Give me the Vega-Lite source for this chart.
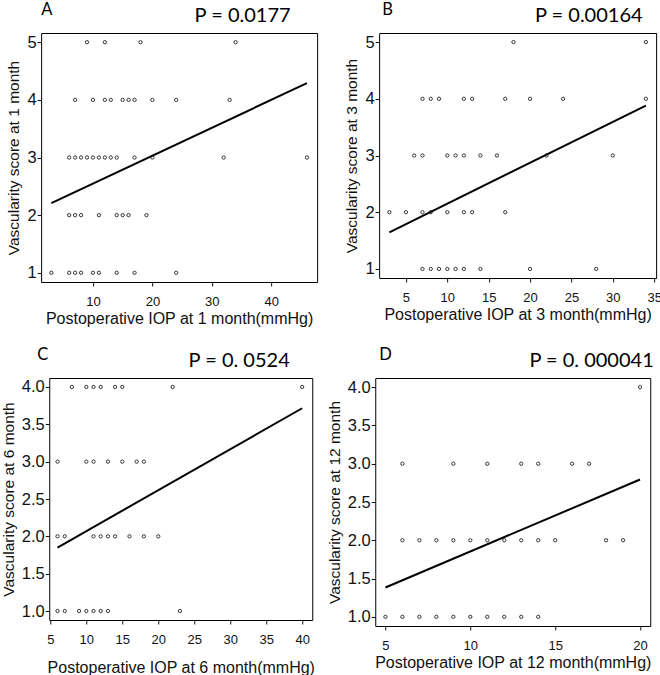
{
  "$schema": "https://vega.github.io/schema/vega-lite/v6.json",
  "background": "white",
  "padding": {"left": 0, "top": 1, "right": 0, "bottom": 0},
  "config": {
    "view": {"stroke": "black", "strokeWidth": 1},
    "axis": {"grid": false, "domain": false, "tickColor": "#111", "labelColor": "#111", "titleColor": "#111", "labelFont": "Liberation Sans", "titleFont": "Liberation Sans", "titleFontWeight": "normal"},
    "axisX": {"labelFontSize": 13, "titleFontSize": 16, "tickSize": 4, "labelPadding": 9, "titlePadding": 2},
    "axisY": {"labelFontSize": 16.5, "titleFontSize": 15.5, "tickSize": 4, "labelPadding": 1, "titlePadding": 5, "labelAngle": 0},
    "title": {"font": "Lato", "fontSize": 16.5, "fontWeight": "normal", "anchor": "start", "frame": "group", "color": "black", "offset": -13},
    "point": {"filled": false, "color": "#222", "size": 11, "strokeWidth": 0.9, "opacity": 1},
    "line": {"color": "black", "strokeWidth": 2}
  },
  "datasets": {
    "pts": [
      {"p": "A", "iop": 9, "score": 5}, {"p": "A", "iop": 12, "score": 5}, {"p": "A", "iop": 18, "score": 5}, {"p": "A", "iop": 34, "score": 5},
      {"p": "A", "iop": 7, "score": 4}, {"p": "A", "iop": 10, "score": 4}, {"p": "A", "iop": 12, "score": 4}, {"p": "A", "iop": 13, "score": 4}, {"p": "A", "iop": 15, "score": 4}, {"p": "A", "iop": 16, "score": 4}, {"p": "A", "iop": 17, "score": 4}, {"p": "A", "iop": 20, "score": 4}, {"p": "A", "iop": 24, "score": 4}, {"p": "A", "iop": 33, "score": 4},
      {"p": "A", "iop": 6, "score": 3}, {"p": "A", "iop": 7, "score": 3}, {"p": "A", "iop": 8, "score": 3}, {"p": "A", "iop": 9, "score": 3}, {"p": "A", "iop": 10, "score": 3}, {"p": "A", "iop": 11, "score": 3}, {"p": "A", "iop": 12, "score": 3}, {"p": "A", "iop": 13, "score": 3}, {"p": "A", "iop": 14, "score": 3}, {"p": "A", "iop": 17, "score": 3}, {"p": "A", "iop": 20, "score": 3}, {"p": "A", "iop": 32, "score": 3}, {"p": "A", "iop": 46, "score": 3},
      {"p": "A", "iop": 6, "score": 2}, {"p": "A", "iop": 7, "score": 2}, {"p": "A", "iop": 8, "score": 2}, {"p": "A", "iop": 11, "score": 2}, {"p": "A", "iop": 14, "score": 2}, {"p": "A", "iop": 15, "score": 2}, {"p": "A", "iop": 16, "score": 2}, {"p": "A", "iop": 19, "score": 2},
      {"p": "A", "iop": 3, "score": 1}, {"p": "A", "iop": 6, "score": 1}, {"p": "A", "iop": 7, "score": 1}, {"p": "A", "iop": 8, "score": 1}, {"p": "A", "iop": 10, "score": 1}, {"p": "A", "iop": 11, "score": 1}, {"p": "A", "iop": 14, "score": 1}, {"p": "A", "iop": 17, "score": 1}, {"p": "A", "iop": 24, "score": 1},
      {"p": "B", "iop": 18, "score": 5}, {"p": "B", "iop": 34, "score": 5},
      {"p": "B", "iop": 7, "score": 4}, {"p": "B", "iop": 8, "score": 4}, {"p": "B", "iop": 9, "score": 4}, {"p": "B", "iop": 12, "score": 4}, {"p": "B", "iop": 13, "score": 4}, {"p": "B", "iop": 17, "score": 4}, {"p": "B", "iop": 20, "score": 4}, {"p": "B", "iop": 24, "score": 4}, {"p": "B", "iop": 34, "score": 4},
      {"p": "B", "iop": 6, "score": 3}, {"p": "B", "iop": 7, "score": 3}, {"p": "B", "iop": 10, "score": 3}, {"p": "B", "iop": 11, "score": 3}, {"p": "B", "iop": 12, "score": 3}, {"p": "B", "iop": 14, "score": 3}, {"p": "B", "iop": 16, "score": 3}, {"p": "B", "iop": 22, "score": 3}, {"p": "B", "iop": 30, "score": 3},
      {"p": "B", "iop": 3, "score": 2}, {"p": "B", "iop": 5, "score": 2}, {"p": "B", "iop": 7, "score": 2}, {"p": "B", "iop": 8, "score": 2}, {"p": "B", "iop": 10, "score": 2}, {"p": "B", "iop": 12, "score": 2}, {"p": "B", "iop": 13, "score": 2}, {"p": "B", "iop": 17, "score": 2},
      {"p": "B", "iop": 7, "score": 1}, {"p": "B", "iop": 8, "score": 1}, {"p": "B", "iop": 9, "score": 1}, {"p": "B", "iop": 10, "score": 1}, {"p": "B", "iop": 11, "score": 1}, {"p": "B", "iop": 12, "score": 1}, {"p": "B", "iop": 14, "score": 1}, {"p": "B", "iop": 20, "score": 1}, {"p": "B", "iop": 28, "score": 1},
      {"p": "C", "iop": 8, "score": 4}, {"p": "C", "iop": 10, "score": 4}, {"p": "C", "iop": 11, "score": 4}, {"p": "C", "iop": 12, "score": 4}, {"p": "C", "iop": 14, "score": 4}, {"p": "C", "iop": 15, "score": 4}, {"p": "C", "iop": 22, "score": 4}, {"p": "C", "iop": 40, "score": 4},
      {"p": "C", "iop": 6, "score": 3}, {"p": "C", "iop": 10, "score": 3}, {"p": "C", "iop": 11, "score": 3}, {"p": "C", "iop": 13, "score": 3}, {"p": "C", "iop": 15, "score": 3}, {"p": "C", "iop": 17, "score": 3}, {"p": "C", "iop": 18, "score": 3},
      {"p": "C", "iop": 6, "score": 2}, {"p": "C", "iop": 7, "score": 2}, {"p": "C", "iop": 11, "score": 2}, {"p": "C", "iop": 12, "score": 2}, {"p": "C", "iop": 13, "score": 2}, {"p": "C", "iop": 14, "score": 2}, {"p": "C", "iop": 16, "score": 2}, {"p": "C", "iop": 18, "score": 2}, {"p": "C", "iop": 20, "score": 2},
      {"p": "C", "iop": 6, "score": 1}, {"p": "C", "iop": 7, "score": 1}, {"p": "C", "iop": 9, "score": 1}, {"p": "C", "iop": 10, "score": 1}, {"p": "C", "iop": 11, "score": 1}, {"p": "C", "iop": 12, "score": 1}, {"p": "C", "iop": 13, "score": 1}, {"p": "C", "iop": 23, "score": 1},
      {"p": "D", "iop": 20, "score": 4},
      {"p": "D", "iop": 6, "score": 3}, {"p": "D", "iop": 9, "score": 3}, {"p": "D", "iop": 11, "score": 3}, {"p": "D", "iop": 13, "score": 3}, {"p": "D", "iop": 14, "score": 3}, {"p": "D", "iop": 16, "score": 3}, {"p": "D", "iop": 17, "score": 3},
      {"p": "D", "iop": 6, "score": 2}, {"p": "D", "iop": 7, "score": 2}, {"p": "D", "iop": 8, "score": 2}, {"p": "D", "iop": 9, "score": 2}, {"p": "D", "iop": 10, "score": 2}, {"p": "D", "iop": 11, "score": 2}, {"p": "D", "iop": 12, "score": 2}, {"p": "D", "iop": 13, "score": 2}, {"p": "D", "iop": 14, "score": 2}, {"p": "D", "iop": 15, "score": 2}, {"p": "D", "iop": 18, "score": 2}, {"p": "D", "iop": 19, "score": 2},
      {"p": "D", "iop": 5, "score": 1}, {"p": "D", "iop": 6, "score": 1}, {"p": "D", "iop": 7, "score": 1}, {"p": "D", "iop": 8, "score": 1}, {"p": "D", "iop": 9, "score": 1}, {"p": "D", "iop": 10, "score": 1}, {"p": "D", "iop": 11, "score": 1}, {"p": "D", "iop": 12, "score": 1}, {"p": "D", "iop": 13, "score": 1}, {"p": "D", "iop": 14, "score": 1}
    ],
    "fit": [
      {"p": "A", "iop": 3, "score": 2.21}, {"p": "A", "iop": 46, "score": 4.29},
      {"p": "B", "iop": 3, "score": 1.645}, {"p": "B", "iop": 34, "score": 3.88},
      {"p": "C", "iop": 6, "score": 1.85}, {"p": "C", "iop": 40, "score": 3.715},
      {"p": "D", "iop": 5, "score": 1.383}, {"p": "D", "iop": 20, "score": 2.794}
    ]
  },
  "spacing": 19,
  "center": true,
  "vconcat": [
    {
      "spacing": 26,
      "hconcat": [
        {
          "width": 276, "height": 249,
          "title": {"text": "A", "dx": 0},
          "resolve": {"axis": {"x": "independent"}},
          "layer": [
            {
              "data": {"name": "pts"}, "transform": [{"filter": "datum.p === 'A'"}],
              "mark": "point",
              "encoding": {
                "x": {"field": "iop", "type": "quantitative", "scale": {"domain": [1.28, 47.72], "nice": false, "zero": false}, "axis": {"values": [10, 20, 30, 40], "format": "d", "labelFontSize": 13, "title": "Postoperative IOP at 1 month(mmHg)"}},
                "y": {"field": "score", "type": "quantitative", "scale": {"domain": [0.84, 5.16], "nice": false, "zero": false}, "axis": {"values": [1, 2, 3, 4, 5], "format": "d", "labelFontSize": 16.5, "title": "Vascularity score at 1 month"}}
              }
            },
            {
              "data": {"name": "fit"}, "transform": [{"filter": "datum.p === 'A'"}],
              "mark": "line",
              "encoding": {
                "x": {"field": "iop", "type": "quantitative", "axis": {"orient": "top", "title": "P = 0.0177", "labels": false, "ticks": false, "domain": false, "minExtent": 0, "maxExtent": 0, "titleFont": "Lato", "titleFontSize": 20, "titlePadding": 8, "titleX": 249, "titleAlign": "right", "titleColor": "black"}},
                "y": {"field": "score", "type": "quantitative"}
              }
            }
          ]
        },
        {
          "width": 277, "height": 245,
          "title": {"text": "B", "dx": 3},
          "resolve": {"axis": {"x": "independent"}},
          "layer": [
            {
              "data": {"name": "pts"}, "transform": [{"filter": "datum.p === 'B'"}],
              "mark": "point",
              "encoding": {
                "x": {"field": "iop", "type": "quantitative", "scale": {"domain": [1.76, 35.24], "nice": false, "zero": false}, "axis": {"values": [5, 10, 15, 20, 25, 30, 35], "format": "d", "labelFontSize": 13, "title": "Postoperative IOP at 3 month(mmHg)"}},
                "y": {"field": "score", "type": "quantitative", "scale": {"domain": [0.84, 5.16], "nice": false, "zero": false}, "axis": {"values": [1, 2, 3, 4, 5], "format": "d", "labelFontSize": 16.5, "title": "Vascularity score at 3 month"}}
              }
            },
            {
              "data": {"name": "fit"}, "transform": [{"filter": "datum.p === 'B'"}],
              "mark": "line",
              "encoding": {
                "x": {"field": "iop", "type": "quantitative", "axis": {"orient": "top", "title": "P = 0.00164", "labels": false, "ticks": false, "domain": false, "minExtent": 0, "maxExtent": 0, "titleFont": "Lato", "titleFontSize": 20, "titlePadding": 8, "titleX": 263, "titleAlign": "right", "titleColor": "black"}},
                "y": {"field": "score", "type": "quantitative"}
              }
            }
          ]
        }
      ]
    },
    {
      "spacing": 11,
      "hconcat": [
        {
          "width": 263, "height": 242,
          "title": {"text": "C", "dx": -12},
          "resolve": {"axis": {"x": "independent"}},
          "layer": [
            {
              "data": {"name": "pts"}, "transform": [{"filter": "datum.p === 'C'"}],
              "mark": "point",
              "encoding": {
                "x": {"field": "iop", "type": "quantitative", "scale": {"domain": [4.85, 41.4], "nice": false, "zero": false}, "axis": {"values": [5, 10, 15, 20, 25, 30, 35, 40], "format": "d", "labelFontSize": 13, "title": "Postoperative IOP at 6 month(mmHg)", "titlePadding": 13}},
                "y": {"field": "score", "type": "quantitative", "scale": {"domain": [0.88, 4.12], "nice": false, "zero": false}, "axis": {"values": [1, 1.5, 2, 2.5, 3, 3.5, 4], "format": ".1f", "labelFontSize": 16.5, "title": "Vascularity score at 6 month"}}
              }
            },
            {
              "data": {"name": "fit"}, "transform": [{"filter": "datum.p === 'C'"}],
              "mark": "line",
              "encoding": {
                "x": {"field": "iop", "type": "quantitative", "axis": {"orient": "top", "title": "P = 0. 0524", "labels": false, "ticks": false, "domain": false, "minExtent": 0, "maxExtent": 0, "titleFont": "Lato", "titleFontSize": 20, "titlePadding": 8, "titleX": 240, "titleAlign": "right", "titleColor": "black"}},
                "y": {"field": "score", "type": "quantitative"}
              }
            }
          ]
        },
        {
          "width": 275, "height": 248,
          "title": {"text": "D", "dx": 4},
          "resolve": {"axis": {"x": "independent"}},
          "layer": [
            {
              "data": {"name": "pts"}, "transform": [{"filter": "datum.p === 'D'"}],
              "mark": "point",
              "encoding": {
                "x": {"field": "iop", "type": "quantitative", "scale": {"domain": [4.4, 20.6], "nice": false, "zero": false}, "axis": {"values": [5, 10, 15, 20], "format": "d", "labelFontSize": 13, "title": "Postoperative IOP at 12 month(mmHg)"}},
                "y": {"field": "score", "type": "quantitative", "scale": {"domain": [0.88, 4.12], "nice": false, "zero": false}, "axis": {"values": [1, 1.5, 2, 2.5, 3, 3.5, 4], "format": ".1f", "labelFontSize": 16.5, "title": "Vascularity score at 12 month"}}
              }
            },
            {
              "data": {"name": "fit"}, "transform": [{"filter": "datum.p === 'D'"}],
              "mark": "line",
              "encoding": {
                "x": {"field": "iop", "type": "quantitative", "axis": {"orient": "top", "title": "P = 0. 000041", "labels": false, "ticks": false, "domain": false, "minExtent": 0, "maxExtent": 0, "titleFont": "Lato", "titleFontSize": 20, "titlePadding": 8, "titleX": 278, "titleAlign": "right", "titleColor": "black"}},
                "y": {"field": "score", "type": "quantitative"}
              }
            }
          ]
        }
      ]
    }
  ]
}
